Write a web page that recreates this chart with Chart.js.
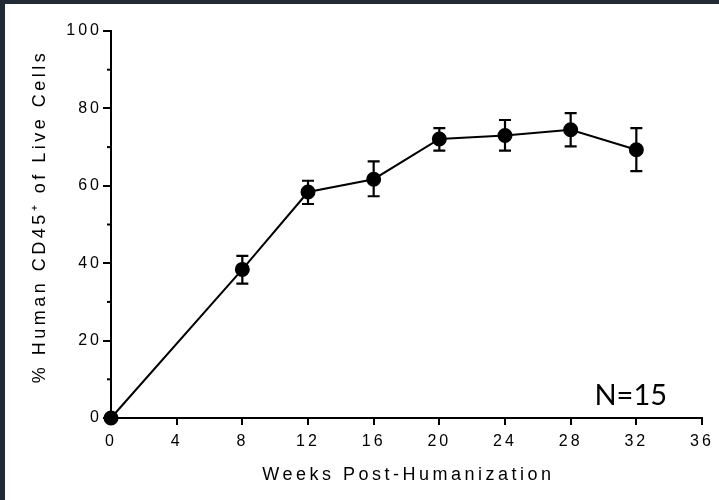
<!DOCTYPE html>
<html><head><meta charset="utf-8">
<script src="https://cdn.jsdelivr.net/npm/chart.js@4.4.1/dist/chart.umd.min.js"></script>
<style>
html,body{margin:0;padding:0;background:#222a35;width:719px;height:500px;overflow:hidden}
#wrap{position:absolute;left:5px;top:4px;width:714px;height:496px;background:#fff}
</style></head><body><div id="wrap"><canvas id="c"></canvas></div>
<script>
// ---- data ----
const weeks = [0, 8, 12, 16, 20, 24, 28, 32];
const meanPct = [0, 38.4, 58.4, 61.7, 72.1, 73.0, 74.5, 69.3];
const errUpper = [0, 41.9, 61.3, 66.3, 74.9, 77.0, 78.8, 74.9];
const errLower = [0, 34.7, 55.3, 57.3, 69.1, 69.1, 70.2, 63.8];
const xTickValues = [0, 4, 8, 12, 16, 20, 24, 28, 32, 36];
const yTickValues = [0, 20, 40, 60, 80, 100];
const yMinorTicks = [10, 30, 50, 70, 90];
const xTitle = 'Weeks Post-Humanization';
const yTitle = '% Human CD45\u207A of Live Cells';
const noteText = 'N=15';

const FONT = '"Liberation Sans", Arial, sans-serif';
Chart.defaults.font.family = FONT;
Chart.defaults.color = '#000';

const points = weeks.map((w, i) => ({x: w, y: meanPct[i]}));

const customDraw = {
  id: 'customDraw',
  beforeDraw(chart) {
    chart.ctx.letterSpacing = '3px';
  },
  beforeDatasetsDraw(chart) {
    const ctx = chart.ctx, xs = chart.scales.x, ys = chart.scales.y;
    ctx.save();
    ctx.strokeStyle = '#000';
    ctx.lineWidth = 2.2;
    weeks.forEach((w, i) => {
      if (errUpper[i] === errLower[i]) return;
      const px = xs.getPixelForValue(w);
      const pt = ys.getPixelForValue(errUpper[i]);
      const pb = ys.getPixelForValue(errLower[i]);
      ctx.beginPath();
      ctx.moveTo(px, pt); ctx.lineTo(px, pb);
      ctx.moveTo(px - 6, pt); ctx.lineTo(px + 6, pt);
      ctx.moveTo(px - 6, pb); ctx.lineTo(px + 6, pb);
      ctx.stroke();
    });
    ctx.restore();
  },
  afterDraw(chart) {
    const ctx = chart.ctx, ca = chart.chartArea, xs = chart.scales.x, ys = chart.scales.y;
    ctx.save();
    // minor y ticks
    ctx.strokeStyle = '#000';
    ctx.lineWidth = 2;
    yMinorTicks.forEach(v => {
      const py = ys.getPixelForValue(v);
      ctx.beginPath();
      ctx.moveTo(ca.left - 4, py); ctx.lineTo(ca.left, py);
      ctx.stroke();
    });
    // axis titles
    ctx.fillStyle = '#000';
    ctx.font = '18px ' + FONT;
    ctx.letterSpacing = '3.5px';
    ctx.textAlign = 'center';
    ctx.textBaseline = 'middle';
    ctx.fillText(xTitle, (ca.left + ca.right) / 2 + 2, ca.bottom + 57);
    ctx.translate(35, (ca.top + ca.bottom) / 2 - 8);
    ctx.rotate(-Math.PI / 2);
    ctx.fillText(yTitle, 0, 0);
    ctx.restore();
    // note
    ctx.save();
    ctx.letterSpacing = '0px';
    ctx.fillStyle = '#000';
    ctx.font = '29px Lato, "Open Sans", sans-serif';
    ctx.textAlign = 'left';
    ctx.textBaseline = 'alphabetic';
    ctx.fillText(noteText, xs.getPixelForValue(29.45), ys.getPixelForValue(3.3));
    ctx.restore();
  }
};

new Chart(document.getElementById('c'), {
  type: 'line',
  data: {
    datasets: [{
      data: points,
      borderColor: '#000',
      borderWidth: 2,
      backgroundColor: '#000',
      pointBackgroundColor: '#000',
      pointBorderColor: '#000',
      pointRadius: 6.5,
      pointHoverRadius: 6.5,
      tension: 0,
      clip: false
    }]
  },
  options: {
    responsive: true,
    maintainAspectRatio: false,
    animation: false,
    events: [],
    layout: {padding: {left: 0, right: 17, top: 27, bottom: 0}},
    plugins: {legend: {display: false}, tooltip: {enabled: false}},
    scales: {
      x: {
        type: 'linear',
        min: 0, max: 36,
        afterBuildTicks(s) { s.ticks = xTickValues.map(v => ({value: v})); },
        afterFit(s) { s.height = 82; },
        ticks: {font: {size: 16}, color: '#000', padding: 7, maxRotation: 0},
        grid: {drawOnChartArea: false, drawTicks: true, tickLength: 7, color: '#000', lineWidth: 2},
        border: {display: true, color: '#000', width: 2},
        title: {display: false}
      },
      y: {
        min: 0, max: 100,
        afterBuildTicks(s) { s.ticks = yTickValues.map(v => ({value: v})); },
        afterFit(s) { s.width = 106; },
        ticks: {font: {size: 16}, color: '#000', padding: 1},
        grid: {drawOnChartArea: false, drawTicks: true, tickLength: 8, color: '#000', lineWidth: 2},
        border: {display: true, color: '#000', width: 2},
        title: {display: false}
      }
    }
  },
  plugins: [customDraw]
});
</script></body></html>
